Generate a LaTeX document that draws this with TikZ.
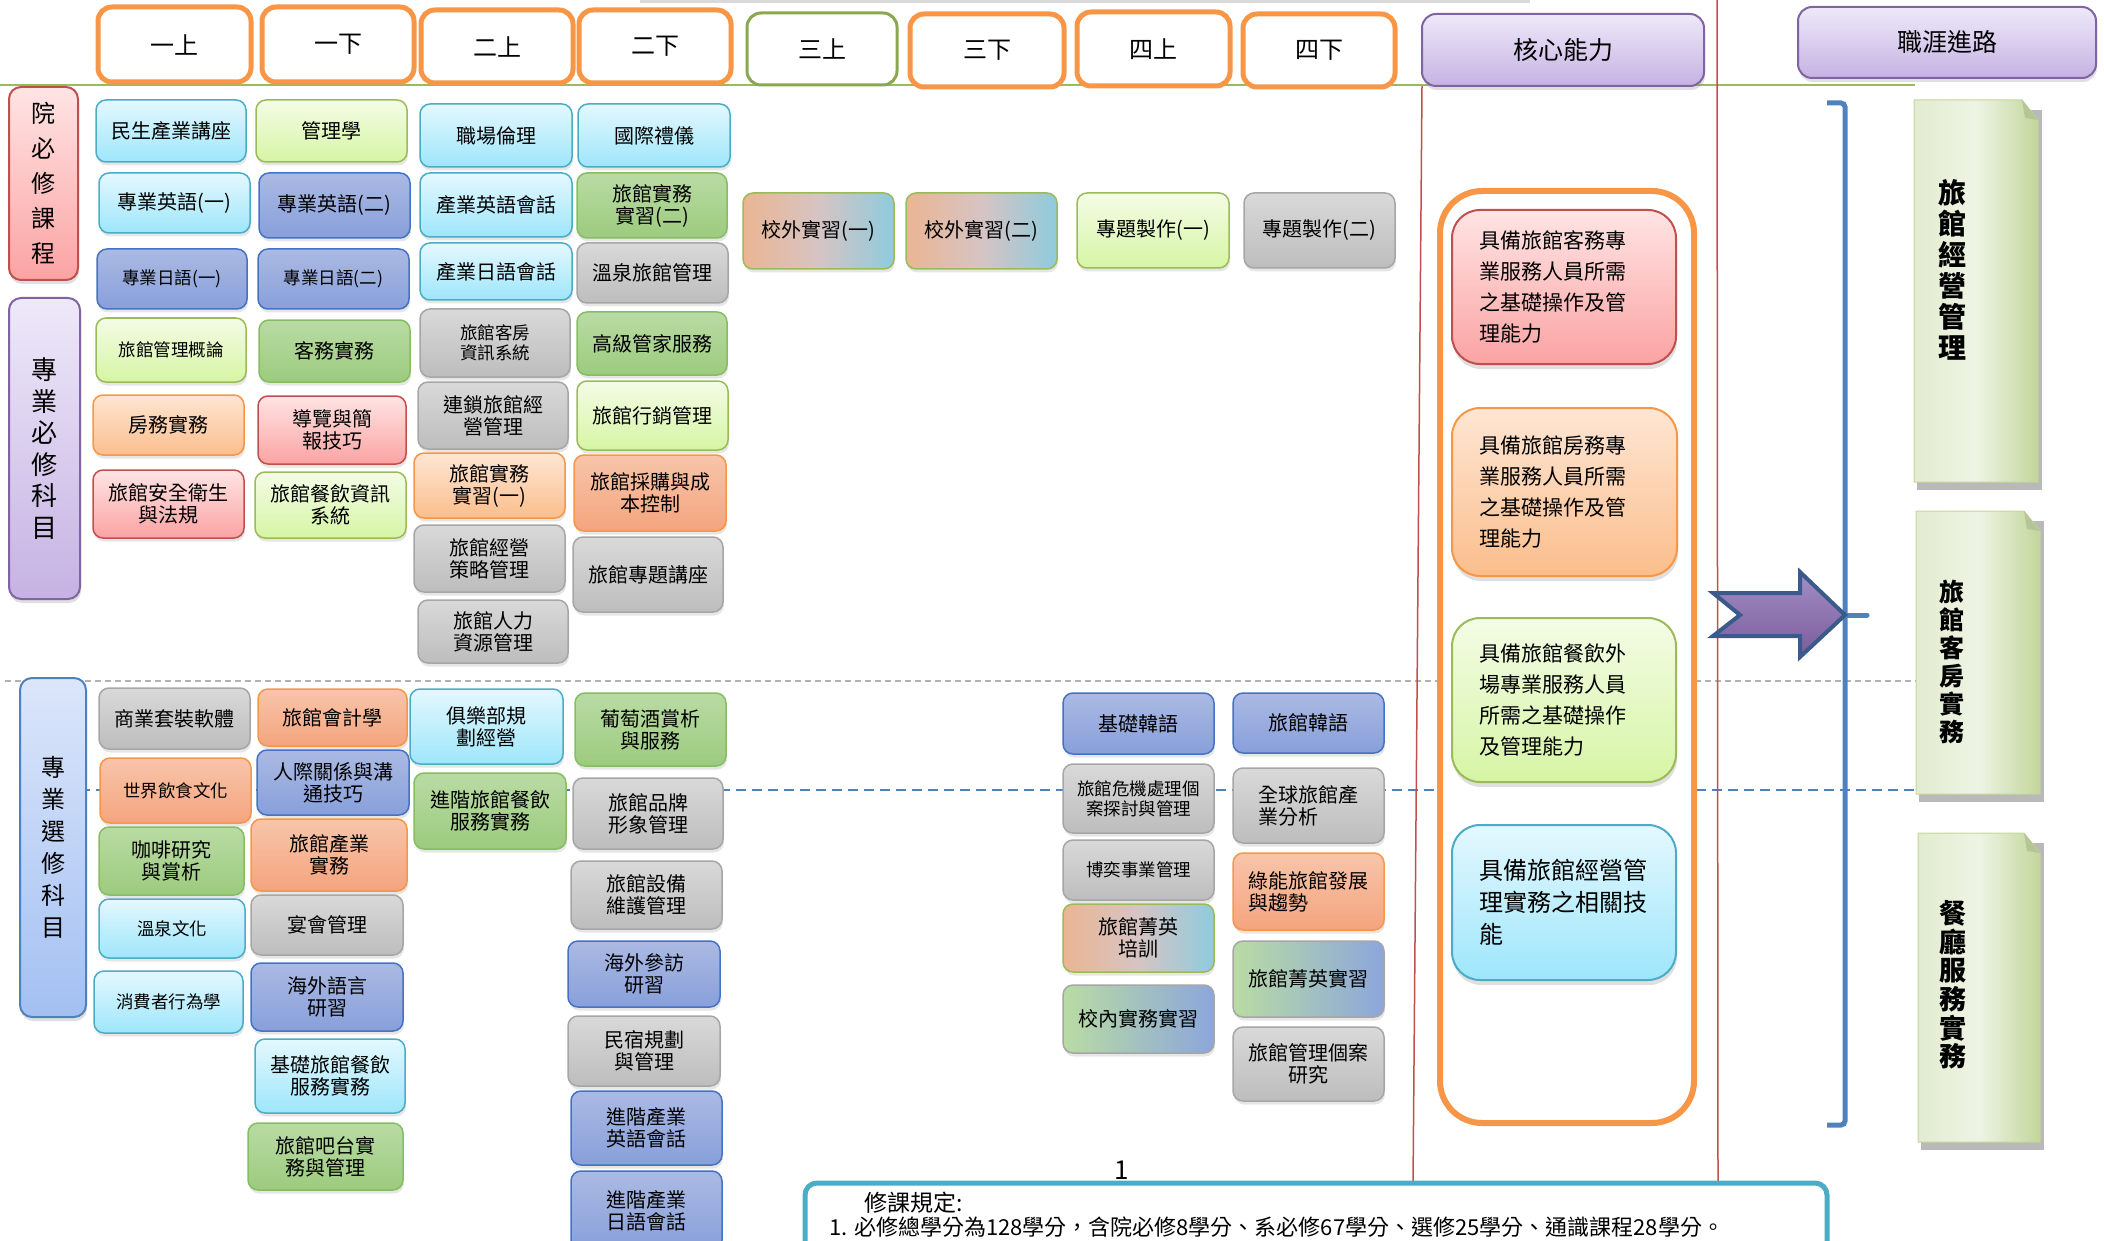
\documentclass[tikz,border=0pt]{standalone}
\usepackage{fontspec}
\setmainfont{Noto Sans CJK TC}
\usetikzlibrary{shadows}
\definecolor{cyanD}{HTML}{4BACC6}\definecolor{cyanT}{HTML}{E4F8FE}\definecolor{cyanB}{HTML}{9EE6FB}
\definecolor{lgD}{HTML}{9BBB59}\definecolor{lgT}{HTML}{F4FCE6}\definecolor{lgB}{HTML}{D6F5A4}
\definecolor{grD}{HTML}{86BD63}\definecolor{grT}{HTML}{B9DBA4}\definecolor{grB}{HTML}{9CCB7E}
\definecolor{blD}{HTML}{4472C4}\definecolor{blT}{HTML}{ABBAE3}\definecolor{blB}{HTML}{889FDA}
\definecolor{gyD}{HTML}{A6A6A6}\definecolor{gyT}{HTML}{D9D9D9}\definecolor{gyB}{HTML}{BDBDBD}
\definecolor{orD}{HTML}{F79646}\definecolor{orT}{HTML}{FEE6D4}\definecolor{orB}{HTML}{FBBE8C}
\definecolor{saT}{HTML}{F8C5AA}\definecolor{saB}{HTML}{F4A47E}
\definecolor{rdD}{HTML}{C0504D}\definecolor{rdT}{HTML}{FFE4E4}\definecolor{rdB}{HTML}{FBA3A3}
\definecolor{mxL}{HTML}{EBB592}\definecolor{mxM}{HTML}{D6C4C4}\definecolor{mxR}{HTML}{8FCBDD}
\definecolor{gbL}{HTML}{B9DCA3}\definecolor{gbR}{HTML}{8CA6DC}
\definecolor{puD}{HTML}{8064A2}\definecolor{puT}{HTML}{EEE9F9}\definecolor{puB}{HTML}{C6B2E3}
\definecolor{bkD}{HTML}{4F81BD}\definecolor{bsT}{HTML}{DCE6FA}\definecolor{bsB}{HTML}{A3C0F2}
\definecolor{crD}{HTML}{C3D69B}\definecolor{crL}{HTML}{E2ECCF}\definecolor{crM}{HTML}{EEF4E4}\definecolor{crR}{HTML}{C3D69B}
\definecolor{arT}{HTML}{A28EC4}\definecolor{arB}{HTML}{7A5C9C}\definecolor{arD}{HTML}{3B5A8C}
\tikzset{
  base/.style={align=center, inner sep=1pt, font=\fontsize{20}{22}\selectfont},
  sm/.style={font=\fontsize{17.5}{20}\selectfont},
  course/.style={base, rounded corners=10pt, line width=1.5pt, drop shadow={opacity=0.2, shadow xshift=1pt, shadow yshift=-3.5pt}},
  cyanbox/.style={course, draw=cyanD, top color=cyanT, bottom color=cyanB},
  lgbox/.style={course, draw=lgD, top color=lgT, bottom color=lgB},
  grbox/.style={course, draw=grD, top color=grT, bottom color=grB},
  bluebox/.style={course, draw=blD, top color=blT, bottom color=blB},
  graybox/.style={course, draw=gyD, top color=gyT, bottom color=gyB},
  orbox/.style={course, draw=orD, top color=orT, bottom color=orB},
  salbox/.style={course, draw=orD, top color=saT, bottom color=saB},
  redbox/.style={course, draw=rdD, top color=rdT, bottom color=rdB},
  mixbox/.style={course, draw=lgD, left color=mxL, right color=mxR, middle color=mxM},
  gbmix/.style={course, draw=gyD, left color=gbL, right color=gbR},
  hdr/.style={base, draw=orD, line width=5pt, rounded corners=14pt, fill=white, font=\fontsize{24}{26}\selectfont},
  hdrg/.style={hdr, draw=lgD!90!black, line width=3pt},
  purp/.style={base, draw=puD, line width=2pt, rounded corners=14pt, top color=puT, bottom color=puB, font=\fontsize{25}{27}\selectfont, drop shadow={opacity=0.25, shadow xshift=1pt, shadow yshift=-4pt}},
  side/.style={base, line width=2pt, rounded corners=12pt, drop shadow={opacity=0.25, shadow xshift=1pt, shadow yshift=-4pt}},
  comp/.style={base, align=left, text width=170pt, rounded corners=28pt, line width=2pt, font=\fontsize{21}{31}\selectfont, drop shadow={opacity=0.25, shadow xshift=1pt, shadow yshift=-5pt}},
  cartext/.style={align=center, inner sep=0pt, font=\bfseries\fontsize{26}{30}\selectfont},
}
\newcommand\cb[7]{\node[#6, minimum width={(#4)-(#2)}, minimum height={(#5)-(#3)}] (#1) at ({((#2)+(#4))/2},{((#3)+(#5))/2}) {#7};}
\newcommand\career[5]{%
  \fill[gray!55] (#2+3,#3+10) rectangle (#4+4,#5+8);
  \path[draw=crD, line width=1pt, left color=crL, right color=crR, middle color=crM] (#2,#3) -- (#4-16,#3) -- (#4,#3+20) -- (#4,#5) -- (#2,#5) -- cycle;
  \fill[crD!80!gray] (#4-16,#3) -- (#4-13,#3+18) -- (#4,#3+20) -- cycle;
  \coordinate (#1) at ({(#2+#4)/2},{(#3+#5)/2});}
\begin{document}
\begin{tikzpicture}[x=1pt,y=-1pt]
\useasboundingbox (0,0) rectangle (2104,1241);
\clip (0,0) rectangle (2104,1241);
% background lines
\fill[gray!30] (640,0) rectangle (1530,3);
\draw[lgD, line width=2pt] (0,85) -- (1915,85);
\draw[gray!60, line width=1.5pt, dash pattern=on 6pt off 4pt] (5,681) -- (1930,681);
\draw[bkD, line width=2.5pt, dash pattern=on 10pt off 6pt] (80,790) -- (2046,790);
\draw[rdD, line width=1.5pt] (1422,86) -- (1413,1185);
\draw[rdD, line width=1.5pt] (1717,0) -- (1718,1185);
% headers
\cb{h1}{98}{7}{251}{82}{hdr}{一上}
\cb{h2}{262}{7}{414}{82}{hdr}{一下}
\cb{h3}{421}{10}{573}{83}{hdr}{二上}
\cb{h4}{579}{10}{731}{83}{hdr}{二下}
\cb{h5}{747}{13}{897}{85}{hdrg}{三上}
\cb{h6}{910}{14}{1064}{87}{hdr}{三下}
\cb{h7}{1077}{12}{1230}{86}{hdr}{四上}
\cb{h8}{1243}{14}{1395}{87}{hdr}{四下}
\cb{hcore}{1422}{14}{1704}{86}{purp}{核心能力}
\cb{hcar}{1798}{7}{2096}{78}{purp}{職涯進路}
% side labels
\cb{s1}{9}{87}{78}{280}{side, draw=rdD, top color=rdT, bottom color=rdB, font=\fontsize{24}{35}\selectfont}{院\\必\\修\\課\\程}
\cb{s2}{9}{298}{80}{599}{side, draw=puD, top color=puT, bottom color=puB, font=\fontsize{26}{31.6}\selectfont}{專\\業\\必\\修\\科\\目}
\cb{s3}{20}{678}{86}{1017}{side, draw=bkD, top color=bsT, bottom color=bsB, font=\fontsize{24}{32}\selectfont}{專\\業\\選\\修\\科\\目}
% required, column 1
\cb{a1}{96}{100}{246}{162}{cyanbox}{民生產業講座}
\cb{a2}{99}{173}{250}{233}{cyanbox}{專業英語(一)}
\cb{a3}{97}{249}{247}{309}{bluebox,sm}{專業日語(一)}
\cb{a4}{96}{318}{246}{382}{lgbox,sm}{旅館管理概論}
\cb{a5}{93}{395}{244}{455}{orbox}{房務實務}
\cb{a6}{93}{470}{244}{538}{redbox}{旅館安全衛生\\與法規}
% column 2
\cb{b1}{256}{100}{407}{162}{lgbox}{管理學}
\cb{b2}{259}{173}{410}{238}{bluebox}{專業英語(二)}
\cb{b3}{258}{249}{409}{309}{bluebox,sm}{專業日語(二)}
\cb{b4}{259}{320}{410}{382}{grbox}{客務實務}
\cb{b5}{258}{396}{406}{464}{redbox}{導覽與簡\\報技巧}
\cb{b6}{255}{472}{406}{538}{lgbox}{旅館餐飲資訊\\系統}
% column 3
\cb{c1}{420}{104}{572}{167}{cyanbox}{職場倫理}
\cb{c2}{420}{173}{572}{237}{cyanbox}{產業英語會話}
\cb{c3}{420}{243}{572}{300}{cyanbox}{產業日語會話}
\cb{c4}{420}{309}{570}{377}{graybox,sm}{旅館客房\\資訊系統}
\cb{c5}{418}{382}{568}{449}{graybox}{連鎖旅館經\\營管理}
\cb{c6}{414}{453}{565}{518}{orbox}{旅館實務\\實習(一)}
\cb{c7}{414}{525}{565}{592}{graybox}{旅館經營\\策略管理}
\cb{c8}{418}{600}{568}{663}{graybox}{旅館人力\\資源管理}
% column 4
\cb{d1}{578}{104}{730}{167}{cyanbox}{國際禮儀}
\cb{d2}{577}{173}{727}{238}{grbox}{旅館實務\\實習(二)}
\cb{d3}{577}{243}{728}{303}{graybox}{溫泉旅館管理}
\cb{d4}{577}{312}{727}{375}{grbox}{高級管家服務}
\cb{d5}{577}{381}{728}{450}{lgbox}{旅館行銷管理}
\cb{d6}{574}{455}{726}{531}{salbox}{旅館採購與成\\本控制}
\cb{d7}{573}{537}{723}{612}{graybox}{旅館專題講座}
% row years 3-4
\cb{e1}{743}{193}{894}{269}{mixbox}{校外實習(一)}
\cb{e2}{906}{193}{1057}{269}{mixbox}{校外實習(二)}
\cb{e3}{1077}{193}{1229}{268}{lgbox}{專題製作(一)}
\cb{e4}{1244}{193}{1395}{268}{graybox}{專題製作(二)}
% electives
\cb{f1}{99}{688}{250}{749}{graybox}{商業套裝軟體}
\cb{f2}{100}{758}{251}{823}{salbox,sm}{世界飲食文化}
\cb{f3}{99}{827}{244}{895}{grbox}{咖啡研究\\與賞析}
\cb{f4}{99}{899}{245}{958}{cyanbox,sm}{溫泉文化}
\cb{f5}{94}{971}{243}{1033}{cyanbox,sm}{消費者行為學}
\cb{g1}{258}{689}{407}{746}{salbox}{旅館會計學}
\cb{g2}{257}{750}{409}{815}{bluebox}{人際關係與溝\\通技巧}
\cb{g3}{251}{819}{407}{891}{salbox}{旅館產業\\實務}
\cb{g4}{251}{895}{403}{955}{graybox}{宴會管理}
\cb{g5}{251}{963}{403}{1031}{bluebox}{海外語言\\研習}
\cb{g6}{255}{1039}{405}{1113}{cyanbox}{基礎旅館餐飲\\服務實務}
\cb{g7}{248}{1123}{403}{1190}{grbox}{旅館吧台實\\務與管理}
\cb{i1}{410}{689}{563}{764}{cyanbox}{俱樂部規\\劃經營}
\cb{i2}{414}{773}{566}{849}{grbox}{進階旅館餐飲\\服務實務}
\cb{j1}{575}{693}{726}{766}{grbox}{葡萄酒賞析\\與服務}
\cb{j2}{573}{778}{723}{849}{graybox}{旅館品牌\\形象管理}
\cb{j3}{571}{861}{722}{929}{graybox}{旅館設備\\維護管理}
\cb{j4}{568}{941}{720}{1007}{bluebox}{海外參訪\\研習}
\cb{j5}{568}{1016}{720}{1086}{graybox}{民宿規劃\\與管理}
\cb{j6}{571}{1091}{722}{1165}{bluebox}{進階產業\\英語會話}
\cb{j7}{571}{1171}{722}{1250}{bluebox}{進階產業\\日語會話}
\cb{k1}{1063}{693}{1214}{754}{bluebox}{基礎韓語}
\cb{k2}{1063}{764}{1214}{833}{graybox,sm}{旅館危機處理個\\案探討與管理}
\cb{k3}{1063}{840}{1214}{900}{graybox,sm}{博奕事業管理}
\cb{k4}{1063}{904}{1214}{972}{mixbox}{旅館菁英\\培訓}
\cb{k5}{1063}{985}{1214}{1053}{gbmix}{校內實務實習}
\cb{l1}{1233}{693}{1384}{753}{bluebox}{旅館韓語}
\cb{l2}{1233}{768}{1384}{843}{graybox,align=left}{全球旅館產\\業分析}
\cb{l3}{1233}{853}{1384}{930}{salbox,align=left}{綠能旅館發展\\與趨勢}
\cb{l4}{1233}{941}{1384}{1017}{gbmix}{旅館菁英實習}
\cb{l5}{1233}{1027}{1384}{1101}{graybox}{旅館管理個案\\研究}
% core competencies
\cb{core}{1440}{191}{1694}{1123}{draw=orD, line width=6pt, fill=white, rounded corners=42pt}{}
\cb{m1}{1452}{210}{1676}{364}{comp, draw=rdD, top color=rdT, bottom color=rdB}{具備旅館客務專\\業服務人員所需\\之基礎操作及管\\理能力}
\cb{m2}{1452}{408}{1677}{576}{comp, draw=orD, top color=orT, bottom color=orB}{具備旅館房務專\\業服務人員所需\\之基礎操作及管\\理能力}
\cb{m3}{1452}{618}{1676}{782}{comp, draw=lgD, top color=lgT, bottom color=lgB}{具備旅館餐飲外\\場專業服務人員\\所需之基礎操作\\及管理能力}
\cb{m4}{1452}{825}{1676}{980}{comp, draw=cyanD, top color=cyanT, bottom color=cyanB, font=\fontsize{24}{32}\selectfont}{具備旅館經營管\\理實務之相關技\\能}
% career boxes
\career{cr1}{1914}{100}{2038}{482}
\career{cr2}{1916}{511}{2040}{794}
\career{cr3}{1918}{833}{2040}{1142}
\node[cartext, font=\bfseries\fontsize{28}{31}\selectfont] (t1) at (1952,270) {旅\\館\\經\\營\\管\\理};
\node[cartext, font=\bfseries\fontsize{25}{28}\selectfont] (t2) at (1952,662) {旅\\館\\客\\房\\實\\務};
\node[cartext, font=\bfseries\fontsize{27}{28.6}\selectfont] (t3) at (1953,985) {餐\\廳\\服\\務\\實\\務};
% bracket and arrow
\draw[bkD, line width=5pt, rounded corners=4pt] (1827,103) -- (1845,103) -- (1845,1125) -- (1827,1125);
\coordinate (br) at (1845,615);
\coordinate (brt) at (1867,615);
\draw[bkD, line width=5pt, line cap=round] (br) -- (brt);
\path[draw=arD, line width=4pt, line join=miter, top color=arT, bottom color=arB] (1713,593) -- (1800,593) -- (1800,572) -- (1845,615) -- (1800,657) -- (1800,636) -- (1713,636) -- (1740,615) -- cycle;
% rules box
\node[font=\fontsize{26}{28}\selectfont] (pg) at (1122,1170) {1};
\cb{rule}{805}{1183}{1827}{1330}{draw=cyanD, line width=5pt, fill=white, rounded corners=12pt}{}
\node[anchor=west, inner sep=0pt, font=\fontsize{23}{25}\selectfont] (rt) at (864,1203) {修課規定:};
\node[anchor=base west, inner sep=0pt, font=\fontsize{22}{24}\selectfont] (r1) at (829,1235) {1. 必修總學分為128學分，含院必修8學分、系必修67學分、選修25學分、通識課程28學分。};
\end{tikzpicture}
\end{document}
